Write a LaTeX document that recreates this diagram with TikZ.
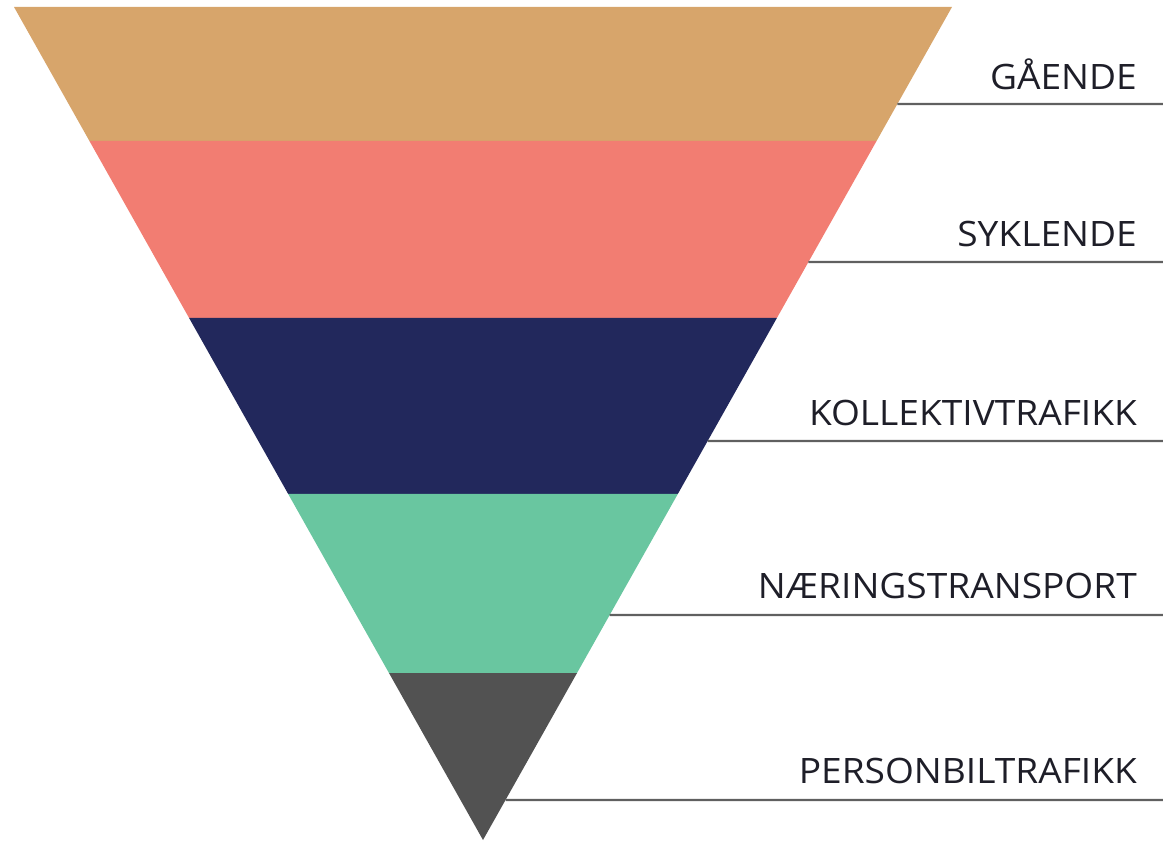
\documentclass[tikz,border=0pt]{standalone}
\usepackage{fontspec}
\setmainfont{Open Sans}
\definecolor{cTan}{HTML}{D7A56B}
\definecolor{cSalmon}{HTML}{F27D72}
\definecolor{cNavy}{HTML}{22285C}
\definecolor{cGreen}{HTML}{69C6A0}
\definecolor{cGray}{HTML}{525252}
\definecolor{cLine}{HTML}{606060}
\definecolor{cText}{HTML}{1E1E28}
\begin{document}
\begin{tikzpicture}[x=1pt,y=-1pt,
  lbl/.style={anchor=base east,inner sep=0pt,text=cText,xscale=1.06,font=\fontsize{35}{40}\selectfont},
  rule/.style={draw=cLine,line width=2.3pt}]
\useasboundingbox (0,0) rectangle (1163,843);
% triangle corners
\coordinate (TL) at (14,7);
\coordinate (TR) at (952,7);
\coordinate (AP) at (483,840);
% band boundaries at y = 141, 318, 494, 673
\path (TL) -- (AP) coordinate[pos={(141-7)/833}] (L1)
                   coordinate[pos={(318-7)/833}] (L2)
                   coordinate[pos={(494-7)/833}] (L3)
                   coordinate[pos={(673-7)/833}] (L4);
\path (TR) -- (AP) coordinate[pos={(141-7)/833}] (R1)
                   coordinate[pos={(318-7)/833}] (R2)
                   coordinate[pos={(494-7)/833}] (R3)
                   coordinate[pos={(673-7)/833}] (R4)
                   coordinate[pos={(104-7)/833}] (E1)
                   coordinate[pos={(262-7)/833}] (E2)
                   coordinate[pos={(441-7)/833}] (E3)
                   coordinate[pos={(615-7)/833}] (E4)
                   coordinate[pos={(800-7)/833}] (E5);
\fill[cTan] (TL) -- (TR) -- (R1) -- (L1) -- cycle;
\fill[cSalmon] (L1) -- (R1) -- (R2) -- (L2) -- cycle;
\fill[cNavy] (L2) -- (R2) -- (R3) -- (L3) -- cycle;
\fill[cGreen] (L3) -- (R3) -- (R4) -- (L4) -- cycle;
\fill[cGray] (L4) -- (R4) -- (AP) -- cycle;
% line ends at right border
\coordinate (F1) at (1163,104);
\coordinate (F2) at (1163,262);
\coordinate (F3) at (1163,441);
\coordinate (F4) at (1163,615);
\coordinate (F5) at (1163,800);
\draw[rule] (E1) -- (F1);
\draw[rule] (E2) -- (F2);
\draw[rule] (E3) -- (F3);
\draw[rule] (E4) -- (F4);
\draw[rule] (E5) -- (F5);
\node[lbl] (n1) at (1137,90) {GÅENDE};
\node[lbl] (n2) at (1137,246) {SYKLENDE};
\node[lbl] (n3) at (1137,425) {KOLLEKTIVTRAFIKK};
\node[lbl] (n4) at (1137,598) {NÆRINGSTRANSPORT};
\node[lbl] (n5) at (1137,783) {PERSONBILTRAFIKK};
\end{tikzpicture}
\end{document}
